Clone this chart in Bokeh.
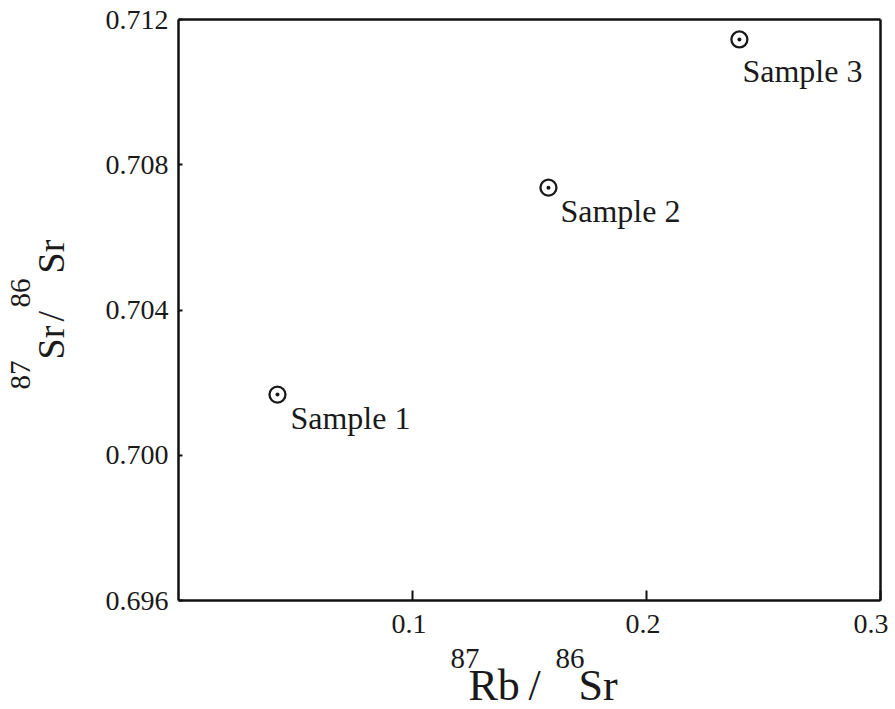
from bokeh.plotting import figure
from bokeh.models import (Range1d, FixedTicker, PrintfTickFormatter, Label,
                          LinearAxis)
from bokeh.embed import file_html
from bokeh.resources import INLINE

# ---- data ----
samples = ["Sample 1", "Sample 2", "Sample 3"]
rb86_sr86 = [0.0423, 0.1581, 0.2397]          # 87Rb/86Sr
sr87_sr86 = [0.70167, 0.70737, 0.71145]       # 87Sr/86Sr
x_ticks = [0.1, 0.2, 0.3]
y_ticks = [0.696, 0.700, 0.704, 0.708, 0.712]
x_lo, x_hi = 0.0, 0.3
y_lo, y_hi = 0.696, 0.712

# axis titles split into superscript / main pieces
x_title_sup = ["87", "86"]
x_title_main = ["Rb", "/", "Sr"]
y_title_sup = ["87", "86"]
y_title_main = ["Sr", "/", "Sr"]

# sample-label offsets from each point (screen px, baseline below the point)
label_dx = [13, 12, 3]
label_dy = [36, 36, 44]

FONT = "Liberation Serif"
INK = "#1a1a1a"
LINE = "#111111"
BASE_SHIFT = 0.4     # Label anchor sits this many em above the glyph baseline

W, H = 895, 709
BOX_L, BOX_T, BOX_R, BOX_B = 178, 19, 880, 600   # data box in picture px

sx = (x_hi - x_lo) / (BOX_R - BOX_L)
sy = (y_hi - y_lo) / (BOX_B - BOX_T)

def xd(px):
    return x_lo + (px - BOX_L) * sx

def yd(py):
    return y_lo + (BOX_B - py) * sy

p = figure(width=W, height=H, output_backend="svg", toolbar_location=None,
           x_range=Range1d(xd(0), xd(W)), y_range=Range1d(yd(H), yd(0)),
           min_border=0)
p.background_fill_color = "white"
p.border_fill_color = "white"
p.outline_line_color = None
p.xgrid.visible = False
p.ygrid.visible = False

xa = p.xaxis[0]
ya = p.yaxis[0]
xa.fixed_location = y_lo
ya.fixed_location = x_lo
xa.bounds = (x_lo, x_hi)
ya.bounds = (y_lo, y_hi)

for ax in (xa, ya):
    ax.axis_line_color = LINE
    ax.axis_line_width = 2.5
    ax.major_tick_line_color = LINE
    ax.major_tick_line_width = 2
    ax.minor_tick_line_color = None
    ax.major_tick_out = 0
    ax.major_label_text_font = FONT
    ax.major_label_text_font_size = "28px"
    ax.major_label_text_color = INK

xa.ticker = FixedTicker(ticks=x_ticks)
xa.formatter = PrintfTickFormatter(format="%.1f\u2005")
xa.major_tick_in = 10
xa.major_label_standoff = 7
ya.ticker = FixedTicker(ticks=y_ticks)
ya.formatter = PrintfTickFormatter(format="%.3f")
ya.major_tick_in = 4
ya.major_label_standoff = 10

# closing lines of the box (top and right) as bare axes
top = LinearAxis(fixed_location=y_hi, bounds=(x_lo, x_hi), ticker=FixedTicker(ticks=[]),
                 axis_line_color=LINE, axis_line_width=2.5,
                 major_tick_line_color=None, minor_tick_line_color=None,
                 major_label_text_color=None)
right = LinearAxis(fixed_location=x_hi, bounds=(y_lo, y_hi), ticker=FixedTicker(ticks=[]),
                   axis_line_color=LINE, axis_line_width=2.5,
                   major_tick_line_color=None, minor_tick_line_color=None,
                   major_label_text_color=None)
p.add_layout(top, "above")
p.add_layout(right, "right")

# points
p.scatter(rb86_sr86, sr87_sr86, marker="circle_dot", size=16, line_width=2.3,
          line_color=INK, fill_color="white")

SAMPLE_FS = 32
for xv, yv, name, ddx, ddy in zip(rb86_sr86, sr87_sr86, samples, label_dx, label_dy):
    p.add_layout(Label(x=xv, y=yv, text=name, x_offset=ddx,
                       y_offset=-(ddy - BASE_SHIFT * SAMPLE_FS),
                       text_font=FONT, text_font_size=f"{SAMPLE_FS}px", text_color=INK,
                       text_align="left", text_baseline="alphabetic"))

# axis titles (baseline positions in picture px)
def put(text, px, py, size, vertical=False):
    if vertical:
        px -= BASE_SHIFT * size
        angle = 1.5707963267948966
    else:
        py -= BASE_SHIFT * size
        angle = 0.0
    p.add_layout(Label(x=xd(px), y=yd(py), text=text, angle=angle,
                       text_font=FONT, text_font_size=f"{size}px", text_color=INK,
                       text_align="left", text_baseline="alphabetic"))

for t, px in zip(x_title_sup, [450, 555]):
    put(t, px, 670, 29)
for t, px in zip(x_title_main, [468, 528, 578]):
    put(t, px, 703, 44)

for t, py in zip(y_title_sup, [389, 307]):
    put(t, 32, py, 29, vertical=True)
for t, py in zip(y_title_main, [359, 321, 273]):
    put(t, 66, py, 38, vertical=True)

open("out.html", "w").write(file_html(p, INLINE))
